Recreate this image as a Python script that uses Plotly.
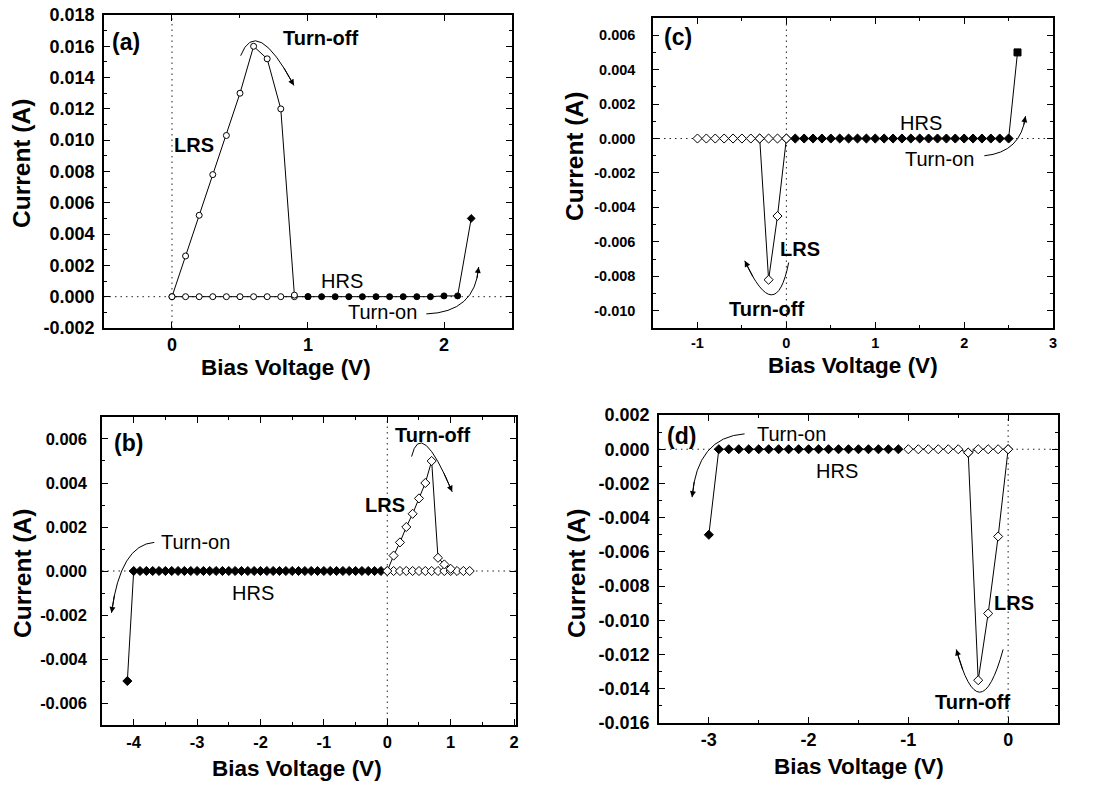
import plotly.graph_objects as go

# ---------------- data ----------------
# panel (a)
a_lrs_v = [0.0, 0.1, 0.2, 0.3, 0.4, 0.5, 0.6, 0.7, 0.8, 0.9]
a_lrs_i = [0.0, 0.0026, 0.0052, 0.0078, 0.0103, 0.0130, 0.0160, 0.0152, 0.0120, 0.0001]
a_hrs_open_v = [0.0, 0.1, 0.2, 0.3, 0.4, 0.5, 0.6, 0.7, 0.8, 0.9, 1.0]
a_hrs_open_i = [0.0, 0.0, 0.0, 0.0, 0.0, 0.0, 0.0, 0.0, 0.0, 0.0, 0.0]
a_hrs_fill_v = [1.0, 1.1, 1.2, 1.3, 1.4, 1.5, 1.6, 1.7, 1.8, 1.9, 2.0, 2.1, 2.2]
a_hrs_fill_i = [0.0, 0.0, 0.0, 0.0, 0.0, 0.0, 0.0, 0.0, 0.0, 0.0, 0.00005, 0.00005, 0.0050]

# panel (b)
b_hrs_fill_v = [-4.1, -4.0, -3.9, -3.8, -3.7, -3.6, -3.5, -3.4, -3.3, -3.2, -3.1,
                -3.0, -2.9, -2.8, -2.7, -2.6, -2.5, -2.4, -2.3, -2.2, -2.1,
                -2.0, -1.9, -1.8, -1.7, -1.6, -1.5, -1.4, -1.3, -1.2, -1.1,
                -1.0, -0.9, -0.8, -0.7, -0.6, -0.5, -0.4, -0.3, -0.2, -0.1]
b_hrs_fill_i = [-0.0050, 0.0, 0.0, 0.0, 0.0, 0.0, 0.0, 0.0, 0.0, 0.0, 0.0,
                0.0, 0.0, 0.0, 0.0, 0.0, 0.0, 0.0, 0.0, 0.0, 0.0,
                0.0, 0.0, 0.0, 0.0, 0.0, 0.0, 0.0, 0.0, 0.0, 0.0,
                0.0, 0.0, 0.0, 0.0, 0.0, 0.0, 0.0, 0.0, 0.0, 0.0]
b_hrs_open_v = [0.0, 0.1, 0.2, 0.3, 0.4, 0.5, 0.6, 0.7, 0.8, 0.9, 1.0, 1.1, 1.2, 1.3]
b_hrs_open_i = [0.0, 0.0, 0.0, 0.0, 0.0, 0.0, 0.0, 0.0, 0.0, 0.0, 0.0, 0.0, 0.0, 0.0]
b_lrs_v = [0.0, 0.1, 0.2, 0.3, 0.4, 0.5, 0.6, 0.7, 0.8, 0.9, 1.0]
b_lrs_i = [0.0, 0.0007, 0.0013, 0.0020, 0.0026, 0.0033, 0.0040, 0.0050, 0.0006, 0.0003, 0.0001]

# panel (c)
c_hrs_open_v = [-1.0, -0.9, -0.8, -0.7, -0.6, -0.5, -0.4, -0.3, -0.2, -0.1, 0.0]
c_hrs_open_i = [0.0, 0.0, 0.0, 0.0, 0.0, 0.0, 0.0, 0.0, 0.0, 0.0, 0.0]
c_lrs_v = [0.0, -0.1, -0.2, -0.3]
c_lrs_i = [0.0, -0.0045, -0.0082, 0.0]
c_hrs_fill_v = [0.1, 0.2, 0.3, 0.4, 0.5, 0.6, 0.7, 0.8, 0.9, 1.0, 1.1, 1.2, 1.3,
                1.4, 1.5, 1.6, 1.7, 1.8, 1.9, 2.0, 2.1, 2.2, 2.3, 2.4, 2.5, 2.6]
c_hrs_fill_i = [0.0, 0.0, 0.0, 0.0, 0.0, 0.0, 0.0, 0.0, 0.0, 0.0, 0.0, 0.0, 0.0,
                0.0, 0.0, 0.0, 0.0, 0.0, 0.0, 0.0, 0.0, 0.0, 0.0, 0.0, 0.0, 0.0050]

# panel (d)
d_hrs_fill_v = [-3.0, -2.9, -2.8, -2.7, -2.6, -2.5, -2.4, -2.3, -2.2, -2.1,
                -2.0, -1.9, -1.8, -1.7, -1.6, -1.5, -1.4, -1.3, -1.2, -1.1]
d_hrs_fill_i = [-0.0050, 0.0, 0.0, 0.0, 0.0, 0.0, 0.0, 0.0, 0.0, 0.0,
                0.0, 0.0, 0.0, 0.0, 0.0, 0.0, 0.0, 0.0, 0.0, 0.0]
d_hrs_open_v = [-1.0, -0.9, -0.8, -0.7, -0.6, -0.5, -0.4, -0.3, -0.2, -0.1, 0.0]
d_hrs_open_i = [0.0, 0.0, 0.0, 0.0, 0.0, 0.0, -0.0002, 0.0, 0.0, 0.0, 0.0]
d_lrs_v = [0.0, -0.1, -0.2, -0.3, -0.4]
d_lrs_i = [0.0, -0.0051, -0.0096, -0.0135, -0.0002]

# tick values / labels
a_xticks = [0, 1, 2]
a_xlabels = ["0", "1", "2"]
a_yticks = [-0.002, 0.0, 0.002, 0.004, 0.006, 0.008, 0.010, 0.012, 0.014, 0.016, 0.018]
a_ylabels = ["-0.002", "0.000", "0.002", "0.004", "0.006", "0.008", "0.010", "0.012", "0.014", "0.016", "0.018"]
b_xticks = [-4, -3, -2, -1, 0, 1, 2]
b_xlabels = ["-4", "-3", "-2", "-1", "0", "1", "2"]
b_yticks = [-0.006, -0.004, -0.002, 0.0, 0.002, 0.004, 0.006]
b_ylabels = ["-0.006", "-0.004", "-0.002", "0.000", "0.002", "0.004", "0.006"]
c_xticks = [-1, 0, 1, 2, 3]
c_xlabels = ["-1", "0", "1", "2", "3"]
c_yticks = [-0.010, -0.008, -0.006, -0.004, -0.002, 0.0, 0.002, 0.004, 0.006]
c_ylabels = ["-0.010", "-0.008", "-0.006", "-0.004", "-0.002", "0.000", "0.002", "0.004", "0.006"]
d_xticks = [-3, -2, -1, 0]
d_xlabels = ["-3", "-2", "-1", "0"]
d_yticks = [-0.016, -0.014, -0.012, -0.010, -0.008, -0.006, -0.004, -0.002, 0.0, 0.002]
d_ylabels = ["-0.016", "-0.014", "-0.012", "-0.010", "-0.008", "-0.006", "-0.004", "-0.002", "0.000", "0.002"]

x_title = "Bias Voltage (V)"
y_title = "Current (A)"

# annotation texts: (panel, label, x, y, bold, size)
labels = [
    ("a", "(a)", -0.34, 0.0163, True, 23),
    ("a", "Turn-off", 1.09, 0.0165, True, 20),
    ("a", "LRS", 0.16, 0.0097, True, 20),
    ("a", "HRS", 1.25, 0.0010, False, 20),
    ("a", "Turn-on", 1.55, -0.0010, False, 20),
    ("b", "(b)", -4.08, 0.0058, True, 23),
    ("b", "Turn-off", 0.72, 0.0062, True, 20),
    ("b", "LRS", -0.03, 0.0030, True, 20),
    ("b", "Turn-on", -3.03, 0.0013, False, 20),
    ("b", "HRS", -2.12, -0.0010, False, 20),
    ("c", "(c)", -1.22, 0.0059, True, 23),
    ("c", "HRS", 1.51, 0.0009, False, 20),
    ("c", "Turn-on", 1.72, -0.0012, False, 20),
    ("c", "LRS", 0.15, -0.0064, True, 20),
    ("c", "Turn-off", -0.22, -0.0099, True, 20),
    ("d", "(d)", -3.27, 0.0008, True, 23),
    ("d", "Turn-on", -2.17, 0.0009, False, 20),
    ("d", "HRS", -1.72, -0.0013, False, 20),
    ("d", "LRS", 0.06, -0.0090, True, 20),
    ("d", "Turn-off", -0.36, -0.0148, True, 20),
]

# curved arrows: (panel, start, control, end)  -- quadratic curves
arrows = [
    ("a", (0.505, 0.0154), (0.62, 0.0180), (0.897, 0.0135)),
    ("a", (1.87, -0.0011), (2.23, -0.0010), (2.255, 0.0019)),
    ("b", (-3.675, 0.0013), (-4.21, 0.0012), (-4.35, -0.0019)),
    ("b", (0.383, 0.0052), (0.53, 0.0070), (1.024, 0.0036)),
    ("c", (2.227, -0.0010), (2.64, -0.0008), (2.69, 0.0013)),
    ("c", (0.026, -0.0072), (-0.12, -0.0110), (-0.468, -0.0071)),
    ("d", (-2.642, 0.0009), (-3.12, 0.0007), (-3.168, -0.0028)),
    ("d", (-0.05, -0.0117), (-0.285, -0.0167), (-0.52, -0.0117)),
]

# ---------------- layout geometry ----------------
W, H = 1099, 785
panels = {
    "a": dict(ax="", xd=[0.0946, 0.4659], yd=[0.5822, 0.9809], xr=[-0.5, 2.5], yr=[-0.002, 0.018],
              xt=a_xticks, xl=a_xlabels, yt=a_yticks, yl=a_ylabels,
              fs=18, ystand=4, xstand=0, xtitle=(0.2602, 0.5318), ytitle=(0.0200, 0.7924)),
    "c": dict(ax="2", xd=[0.5942, 0.9582], yd=[0.5822, 0.9771], xr=[-1.5, 3.0], yr=[-0.011, 0.007],
              xt=c_xticks, xl=c_xlabels, yt=c_yticks, yl=c_ylabels,
              fs=14.5, ystand=13, xstand=1, xtitle=(0.7762, 0.5338), ytitle=(0.5232, 0.8013)),
    "b": dict(ax="3", xd=[0.0928, 0.4695], yd=[0.0764, 0.4688], xr=[-4.5, 2.03], yr=[-0.007, 0.007],
              xt=b_xticks, xl=b_xlabels, yt=b_yticks, yl=b_ylabels,
              fs=16.5, ystand=10, xstand=1, xtitle=(0.2702, 0.0204), ytitle=(0.0209, 0.2701)),
    "d": dict(ax="4", xd=[0.5996, 0.9627], yd=[0.0790, 0.4713], xr=[-3.5, 0.5], yr=[-0.016, 0.002],
              xt=d_xticks, xl=d_xlabels, yt=d_yticks, yl=d_ylabels,
              fs=18, ystand=4, xstand=0, xtitle=(0.7816, 0.0242), ytitle=(0.5250, 0.2701)),
}

FONT = "Liberation Sans, Arial, sans-serif"
fig = go.Figure()

def add_series(p, v, i, symbol, size, hollow):
    ax = panels[p]["ax"]
    fig.add_trace(go.Scatter(
        x=v, y=i, mode="lines+markers",
        line=dict(color="black", width=1),
        marker=dict(symbol=symbol, size=size, color="white" if hollow else "black",
                    line=dict(color="black", width=1)),
        xaxis="x" + ax, yaxis="y" + ax, showlegend=False, hoverinfo="x+y"))

# (a)
add_series("a", a_hrs_open_v, a_hrs_open_i, "circle", 6, True)
add_series("a", a_hrs_fill_v, a_hrs_fill_i,
           ["circle"] * (len(a_hrs_fill_v) - 1) + ["diamond"], 6, False)
add_series("a", a_lrs_v, a_lrs_i, "circle", 6, True)
# (b)
add_series("b", b_hrs_fill_v, b_hrs_fill_i, "diamond", 7, False)
add_series("b", b_hrs_open_v, b_hrs_open_i, "diamond", 7, True)
add_series("b", b_lrs_v, b_lrs_i, "diamond", 7, True)
# (c)
add_series("c", c_hrs_open_v, c_hrs_open_i, "diamond", 7, True)
add_series("c", c_lrs_v, c_lrs_i, "diamond", 7, True)
add_series("c", c_hrs_fill_v, c_hrs_fill_i,
           ["diamond"] * (len(c_hrs_fill_v) - 1) + ["square"], 7, False)
# (d)
add_series("d", d_hrs_fill_v, d_hrs_fill_i, "diamond", 7, False)
add_series("d", d_hrs_open_v, d_hrs_open_i, "diamond", 7, True)
add_series("d", d_lrs_v, d_lrs_i, "diamond", 7, True)

layout = dict(width=W, height=H, margin=dict(l=0, r=0, t=0, b=0),
              plot_bgcolor="white", paper_bgcolor="white", showlegend=False,
              font=dict(family=FONT, color="black"))
shapes = []
annotations = []
DOT = "1.5px,4px"

for key, p in panels.items():
    ax = p["ax"]
    xname = "xaxis" + ax
    yname = "yaxis" + ax
    common = dict(showline=True, linecolor="black", linewidth=1.5, mirror="allticks",
                  ticks="inside", ticklen=6, tickwidth=1.2, tickcolor="black",
                  showgrid=False, zeroline=False, automargin=False,
                  tickfont=dict(family=FONT, size=p["fs"], color="black", weight="bold"))
    layout[xname] = dict(common, domain=p["xd"], range=p["xr"], anchor="y" + ax,
                         tickmode="array", tickvals=p["xt"], ticktext=p["xl"],
                         minor=dict(ticks="inside", ticklen=3, dtick=0.5, tick0=0, tickcolor="black"),
                         ticklabelstandoff=p["xstand"])
    layout[yname] = dict(common, domain=p["yd"], range=p["yr"], anchor="x" + ax,
                         tickmode="array", tickvals=p["yt"], ticktext=p["yl"],
                         minor=dict(ticks="inside", ticklen=3, dtick=0.001, tick0=0, tickcolor="black"),
                         ticklabelstandoff=p["ystand"])
    xref = "x" + ax
    yref = "y" + ax
    # dotted zero lines
    shapes.append(dict(type="line", xref=xref + " domain", x0=0, x1=1, yref=yref, y0=0, y1=0,
                       line=dict(color="#222", width=1, dash=DOT), layer="below"))
    shapes.append(dict(type="line", xref=xref, x0=0, x1=0, yref=yref + " domain", y0=0, y1=1,
                       line=dict(color="#222", width=1, dash=DOT), layer="below"))
    # axis titles
    annotations.append(dict(text=x_title, xref="paper", yref="paper",
                            x=p["xtitle"][0], y=p["xtitle"][1], xanchor="center", yanchor="middle",
                            showarrow=False, font=dict(family=FONT, size=22.5, weight="bold")))
    annotations.append(dict(text=y_title, xref="paper", yref="paper", textangle=-90,
                            x=p["ytitle"][0], y=p["ytitle"][1], xanchor="center", yanchor="middle",
                            showarrow=False, font=dict(family=FONT, size=24.5, weight="bold")))

for (pk, txt, x, y, bold, size) in labels:
    ax = panels[pk]["ax"]
    annotations.append(dict(text=txt, x=x, y=y, xref="x" + ax, yref="y" + ax, showarrow=False,
                            font=dict(family=FONT, size=size, color="black",
                                      weight="bold" if bold else "normal")))

def bez(p0, c, p1, t):
    return ((1 - t) ** 2 * p0[0] + 2 * (1 - t) * t * c[0] + t ** 2 * p1[0],
            (1 - t) ** 2 * p0[1] + 2 * (1 - t) * t * c[1] + t ** 2 * p1[1])

for (pk, s, c, e) in arrows:
    ax = panels[pk]["ax"]
    xref, yref = "x" + ax, "y" + ax
    path = f"M {s[0]},{s[1]} Q {c[0]},{c[1]} {e[0]},{e[1]}"
    shapes.append(dict(type="path", path=path, xref=xref, yref=yref,
                       line=dict(color="black", width=1)))
    tail = bez(s, c, e, 0.85)
    annotations.append(dict(text="", x=e[0], y=e[1], ax=tail[0], ay=tail[1],
                            xref=xref, yref=yref, axref=xref, ayref=yref,
                            showarrow=True, arrowhead=2, arrowsize=1.2, arrowwidth=1,
                            arrowcolor="black", standoff=0))

layout["shapes"] = shapes
layout["annotations"] = annotations
fig.update_layout(**layout)
fig.write_html("out.html", config={"displayModeBar": False},
               post_script="document.body.style.margin='0px';document.body.style.overflow='hidden';")
